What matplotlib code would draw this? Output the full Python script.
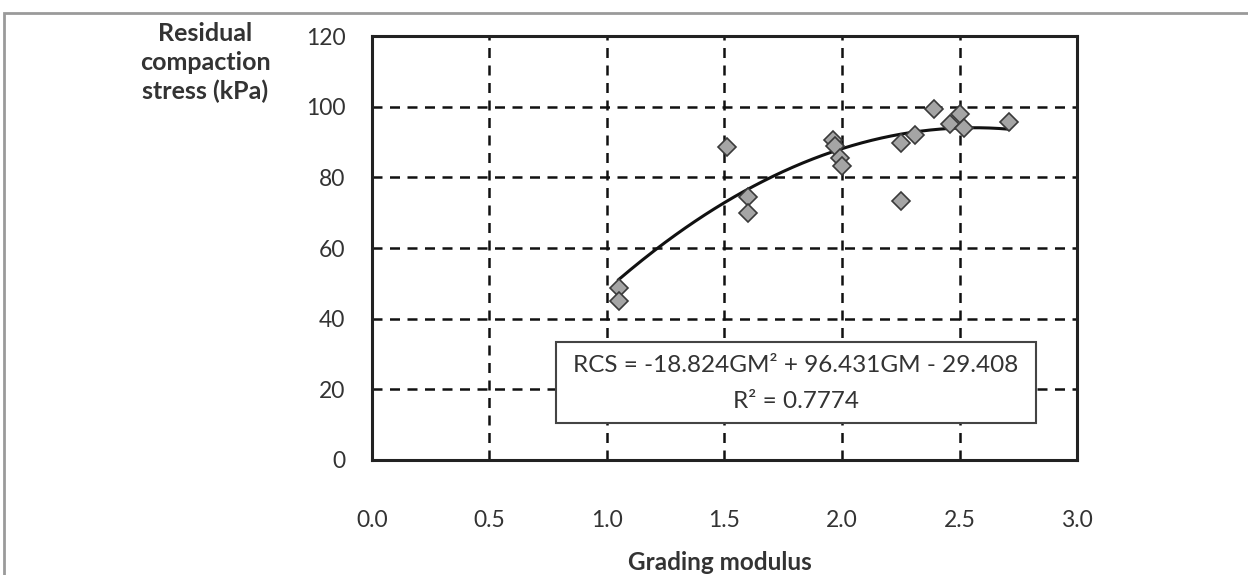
import numpy as np
import matplotlib.pyplot as plt
from matplotlib.patches import Rectangle

# grading modulus (GM) vs residual compaction stress (RCS, kPa)
gm = [1.05, 1.05, 1.51, 1.60, 1.60, 1.96, 1.97, 1.99, 2.00, 2.25, 2.25,
      2.31, 2.39, 2.46, 2.50, 2.52, 2.71]
rcs = [48.7, 45.0, 88.6, 74.4, 69.9, 90.5, 89.0, 85.5, 83.2, 89.7, 73.3,
       92.0, 99.3, 95.1, 97.9, 94.0, 95.7]

# quadratic trend line coefficients
a2, a1, a0 = -18.824, 96.431, -29.408
r2 = 0.7774

xticks = [0.0, 0.5, 1.0, 1.5, 2.0, 2.5, 3.0]
yticks = [0, 20, 40, 60, 80, 100, 120]

plt.rcParams['font.family'] = ['Lato', 'DejaVu Sans']
txt = '#333333'
W, H = 1248, 575

fig = plt.figure(figsize=(12.48, 5.75), dpi=100)
ax = fig.add_axes([0.298, 0.2, 0.565, 0.737])

# outer frame of the figure
fig.patches.append(Rectangle((4 / W, -0.05), 1.2, (H - 13) / H + 0.05,
                             transform=fig.transFigure, fill=False,
                             edgecolor='#9a9a9a', linewidth=2))

ax.set_xlim(0, 3)
ax.set_ylim(0, 120)
ax.set_xticks(xticks)
ax.set_yticks(yticks)
ax.set_xticklabels(['%.1f' % t for t in xticks])
ax.set_yticklabels([str(t) for t in yticks])
ax.tick_params(length=0, labelsize=16.5, labelcolor=txt)
ax.tick_params(axis='x', pad=36)
ax.tick_params(axis='y', pad=19)

ax.grid(True, color='#111111', linestyle=(0, (4, 3)), linewidth=1.8)
ax.set_axisbelow(True)
for s in ax.spines.values():
    s.set_linewidth(2.2)
    s.set_color('#222222')

xf = np.linspace(min(gm), max(gm), 200)
ax.plot(xf, a2 * xf**2 + a1 * xf + a0, color='#111111', linewidth=2.2, zorder=3)
ax.plot(gm, rcs, linestyle='none', marker='D', markersize=9.5,
        markerfacecolor='#a5a5a5', markeredgecolor='#3a3a3a',
        markeredgewidth=1.2, zorder=4)

# equation box
bx0, bx1, by0, by1 = 556, 1036, 342, 423
fig.patches.append(Rectangle((bx0 / W, 1 - by1 / H), (bx1 - bx0) / W,
                             (by1 - by0) / H, transform=fig.transFigure,
                             facecolor='white', edgecolor='#444444',
                             linewidth=1.5, zorder=5))
fig.text(0.5 * (bx0 + bx1) / W, 1 - 366 / H,
         'RCS = -%.3fGM² + %.3fGM - %.3f' % (-a2, a1, -a0),
         ha='center', va='center', fontsize=17.5, color=txt, zorder=6)
fig.text(0.5 * (bx0 + bx1) / W, 1 - 401 / H, 'R² = %.4f' % r2,
         ha='center', va='center', fontsize=17.5, color=txt, zorder=6)

fig.text(205 / W, 1 - 22 / H, 'Residual\ncompaction\nstress (kPa)',
         ha='center', va='top', fontsize=18, fontweight='bold', color=txt,
         linespacing=1.3)
fig.text(720 / W, 1 - 562 / H, 'Grading modulus', ha='center',
         va='center', fontsize=17.5, fontweight='bold', color=txt)

fig.savefig('out.png', dpi=100)
